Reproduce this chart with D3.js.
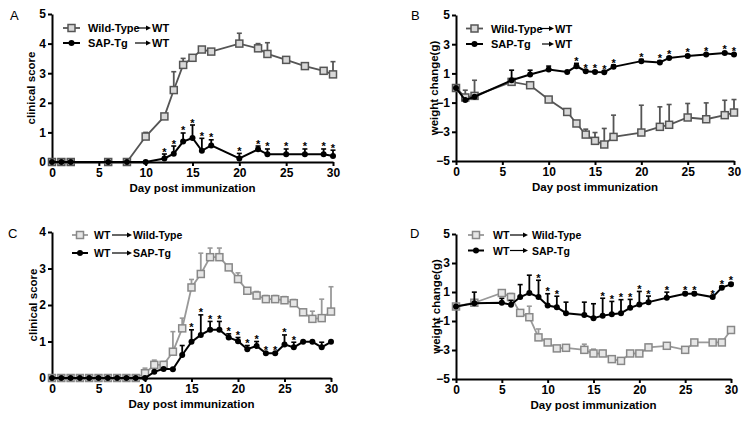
<!DOCTYPE html>
<html><head><meta charset="utf-8">
<script src="https://cdn.jsdelivr.net/npm/d3@7"></script>
<style>body{margin:0;background:#fff}svg{display:block}</style>
</head><body>
<svg id="chart" width="749" height="421"></svg>
<script>
// ---------- DATA ----------
const xTicks = [0, 5, 10, 15, 20, 25, 30];
const yTicksScore5 = [0, 1, 2, 3, 4, 5];
const yTicksScore4 = [0, 1, 2, 3, 4];
const yTicksWeight = [-5, -3, -1, 1, 3, 5];

// Panel A: clinical score, donor -> WT recipient
const daysA = [0, 1, 2, 6, 8, 10, 12, 13, 14, 15, 16, 17, 20, 22, 23, 25, 27, 29, 30];
const wtA    = [0, 0, 0, 0, 0, 0.86, 1.54, 2.43, 3.28, 3.52, 3.8, 3.73, 4.0, 3.84, 3.65, 3.45, 3.24, 3.08, 2.96];
const wtAerr = [0, 0, 0, 0, 0, 0.14, 0.05, 0.62, 0.22, 0.05, 0.05, 0, 0.35, 0.16, 0.38, 0, 0, 0, 0.43];
const sapA    = [0, 0, 0, 0, 0, 0, 0.12, 0.28, 0.69, 0.81, 0.38, 0.56, 0.12, 0.43, 0.26, 0.26, 0.26, 0.26, 0.2];
const sapAerr = [0, 0, 0, 0, 0, 0, 0.15, 0.26, 0.29, 0.44, 0.42, 0.19, 0.17, 0.11, 0.18, 0.18, 0.18, 0.18, 0.2];
const starsA = [12, 13, 14, 15, 16, 17, 20, 22, 23, 25, 27, 29, 30];

// Panel B: weight change, donor -> WT recipient
const daysB = [0, 1, 2, 6, 8, 10, 12, 13, 14, 15, 16, 17, 20, 22, 23, 25, 27, 29, 30];
const wtB    = [0, -0.65, -0.54, 0.42, 0.19, -0.79, -1.64, -2.43, -3.19, -3.62, -3.87, -3.35, -3.05, -2.66, -2.52, -2.02, -2.14, -1.86, -1.68];
const wtBerr = [0, 0.5, 1.07, 0, 0, 0, 0, 0, 0.37, 0.57, 1.1, 1.49, 1.87, 1.37, 1.39, 0.96, 1.12, 1.02, 0.89];
const sapB    = [0, -0.83, -0.6, 0.53, 0.92, 1.27, 1.1, 1.49, 1.15, 1.1, 1.08, 1.45, 1.84, 1.75, 2.06, 2.2, 2.29, 2.4, 2.29];
const sapBerr = [0, 0, 0, 0.69, 0.3, 0.23, 0, 0.2, 0.08, 0.08, 0.08, 0.12, 0.12, 0.12, 0.08, 0.08, 0.05, 0.05, 0.05];
const starsB = [13, 14, 15, 16, 17, 20, 22, 23, 25, 27, 29, 30];

// Panel C: clinical score, WT donor -> recipient
const daysC = [0, 1, 2, 3, 4, 5, 6, 7, 8, 9, 10, 11, 12, 13, 14, 15, 16, 17, 18, 19, 20, 21, 22, 23, 24, 25, 26, 27, 28, 29, 30];
const wtC    = [0, 0, 0, 0, 0, 0, 0, 0, 0, 0, 0.13, 0.36, 0.36, 0.72, 1.36, 2.48, 2.85, 3.31, 3.31, 3.03, 2.71, 2.39, 2.26, 2.16, 2.16, 2.13, 2.05, 1.8, 1.62, 1.64, 1.82];
const wtCerr = [0, 0, 0, 0, 0, 0, 0, 0, 0, 0, 0.14, 0.13, 0.09, 0.55, 0.28, 0.22, 0.57, 0.25, 0.25, 0, 0.17, 0, 0.11, 0.1, 0.1, 0.1, 0.1, 0, 0.21, 0.52, 0.68];
const sapC    = [0, 0, 0, 0, 0, 0, 0, 0, 0, 0, 0, 0.17, 0.25, 0.24, 0.63, 0.99, 1.18, 1.32, 1.32, 1.11, 1.01, 0.79, 0.88, 0.68, 0.68, 0.92, 0.84, 0.99, 0.99, 0.84, 0.99];
const sapCerr = [0, 0, 0, 0, 0, 0, 0, 0, 0, 0, 0, 0, 0, 0, 0.26, 0.33, 0.55, 0.23, 0.23, 0.1, 0.1, 0.1, 0.12, 0, 0, 0.26, 0.14, 0, 0, 0.14, 0];
const starsC = [15, 16, 17, 18, 19, 20, 21, 22, 23, 24, 25, 26];

// Panel D: weight change, WT donor -> recipient
const daysD = [0, 2, 5, 6, 7, 8, 9, 10, 11, 12, 14, 15, 16, 17, 18, 19, 20, 21, 23, 25, 26, 28, 29, 30];
const wtD    = [0, 0.26, 0.93, 0.65, -0.44, -0.74, -2.13, -2.48, -2.89, -2.85, -2.99, -3.24, -3.24, -3.63, -3.75, -3.24, -3.24, -2.82, -2.71, -2.99, -2.48, -2.48, -2.48, -1.62];
const wtDerr = [0, 0, 0, 0.25, 0, 0.76, 0.58, 0, 0, 0, 0.39, 0.3, 0.2, 0, 0, 0, 0, 0.2, 0, 0, 0.1, 0, 0, 0];
const sapD    = [0, 0.23, 0.26, 0.12, 0.65, 0.93, 0.65, 0.07, -0.05, -0.46, -0.58, -0.81, -0.63, -0.53, -0.46, -0.09, 0.14, 0.3, 0.6, 0.88, 0.88, 0.65, 1.3, 1.53];
const sapDerr = [0, 0.76, 0.3, 0.3, 0.86, 1.23, 1.16, 0.81, 0.76, 0.76, 0.88, 1.0, 1.2, 0.88, 0.93, 0.58, 0.9, 0.42, 0.39, 0.1, 0.1, 0.05, 0.1, 0.1];
const starsD = [9, 10, 11, 16, 17, 18, 19, 20, 21, 23, 25, 26, 28, 29, 30];

const xTitle = "Day post immunization";
const yTitleScore = "clinical score";
const yTitleWeight = "weight change(g)";

// ---------- DRAW ----------
const FONT = "'Liberation Sans', Arial, Helvetica, sans-serif";
const svg = d3.select("#chart");

function zip(days, vals, errs) {
  return days.map((d, i) => ({day: d, v: vals[i], e: errs[i]}));
}

function panel(cfg) {
  const g = svg.append("g");
  const x = d3.scaleLinear().domain([0, 30]).range([cfg.x0, cfg.x1]);
  const y = d3.scaleLinear().domain(cfg.yDomain).range([cfg.yb, cfg.yt]);

  const xa = g.append("g").attr("transform", `translate(0,${cfg.yb})`)
    .call(d3.axisBottom(x).tickValues(xTicks).tickFormat(d3.format("d")).tickSize(4).tickSizeOuter(0).tickPadding(2));
  const ya = g.append("g").attr("transform", `translate(${cfg.x0},0)`)
    .call(d3.axisLeft(y).tickValues(cfg.yTicks).tickFormat(d3.format("d")).tickSize(4).tickSizeOuter(0).tickPadding(2));
  [xa, ya].forEach(a => {
    a.select(".domain").attr("stroke", "#000").attr("stroke-width", 2);
    a.selectAll(".tick line").attr("stroke", "#000").attr("stroke-width", 2);
    a.selectAll(".tick text").attr("fill", "#000").attr("font-family", FONT)
      .attr("font-weight", "bold").attr("font-size", 12);
  });

  g.append("text").attr("x", (cfg.x0 + cfg.x1) / 2).attr("y", cfg.yb + 30)
    .attr("text-anchor", "middle").attr("font-family", FONT).attr("font-weight", "bold")
    .attr("font-size", 11.5).text(xTitle);
  g.append("text").attr("transform", `translate(${cfg.ytx},${(cfg.yb + cfg.yt) / 2 + cfg.ytdy}) rotate(-90)`)
    .attr("text-anchor", "middle").attr("font-family", FONT).attr("font-weight", "bold")
    .attr("font-size", 11.5).text(cfg.yTitle);
  g.append("text").attr("x", cfg.lx).attr("y", cfg.ly).attr("font-family", FONT)
    .attr("font-size", 13).text(cfg.letter);

  const line = d3.line().x(d => x(d.day)).y(d => y(d.v));

  cfg.series.forEach(s => {
    const data = zip(s.days, s.vals, s.errs);
    const eb = g.append("g");
    data.filter(d => d.e > 0).forEach(d => {
      const xx = x(d.day), y1 = y(d.v), y2 = y(d.v + d.e);
      eb.append("line").attr("x1", xx).attr("x2", xx).attr("y1", y1).attr("y2", y2)
        .attr("stroke", s.color).attr("stroke-width", 1.8);
      eb.append("line").attr("x1", xx - 2.5).attr("x2", xx + 2.5).attr("y1", y2).attr("y2", y2)
        .attr("stroke", s.color).attr("stroke-width", 1.6);
    });
    g.append("path").datum(data).attr("d", line).attr("fill", "none")
      .attr("stroke", s.color).attr("stroke-width", s.lw);
    drawMarkers(g, data.map(d => [x(d.day), y(d.v)]), s);
    if (s.stars) {
      s.stars.forEach(day => {
        const d = data.find(p => p.day === day);
        const top = Math.min(y(d.v + d.e), y(d.v) - 1);
        g.append("text").attr("x", x(day)).attr("y", top + 1.5).attr("text-anchor", "middle")
          .attr("font-family", FONT).attr("font-weight", "bold").attr("font-size", 11).text("*");
      });
    }
  });

  cfg.legend.forEach(L => {
    const yy = L.y;
    const s = cfg.series[L.series];
    g.append("line").attr("x1", L.lx0).attr("x2", L.lx1).attr("y1", yy).attr("y2", yy)
      .attr("stroke", s.color).attr("stroke-width", s.lw);
    drawMarkers(g, [[(L.lx0 + L.lx1) / 2, yy]], s);
    L.parts.forEach(p => {
      if (p.arrow) {
        g.append("line").attr("x1", p.x0).attr("x2", p.x1 - 4).attr("y1", yy).attr("y2", yy)
          .attr("stroke", "#000").attr("stroke-width", 1.2);
        g.append("path").attr("d", `M${p.x1},${yy}L${p.x1 - 5},${yy - 2.5}L${p.x1 - 5},${yy + 2.5}Z`).attr("fill", "#000");
      } else {
        g.append("text").attr("x", p.x).attr("y", yy + 4).attr("font-family", FONT)
          .attr("font-weight", "bold").attr("font-size", cfg.legendFs).text(p.t);
      }
    });
  });
}

function drawMarkers(g, pts, s) {
  if (s.shape === "square") {
    pts.forEach(([px, py]) => {
      g.append("rect").attr("x", px - 3.5).attr("y", py - 3.5).attr("width", 7).attr("height", 7)
        .attr("fill", s.fill).attr("stroke", s.mstroke).attr("stroke-width", 1.5);
    });
  } else {
    pts.forEach(([px, py]) => {
      g.append("circle").attr("cx", px).attr("cy", py).attr("r", 3).attr("fill", "#000");
    });
  }
}

const darkGray = {shape: "square", color: "#555", mstroke: "#555", fill: "#d8d8d8", lw: 1.8};
const lightGray = {shape: "square", color: "#999", mstroke: "#888", fill: "#e6e6e6", lw: 1.8};
const blackS = {shape: "circle", color: "#000", lw: 2};

panel({
  letter: "A", lx: 10, ly: 20,
  x0: 52, x1: 333, yb: 162, yt: 14, yDomain: [0, 5], yTicks: yTicksScore5,
  yTitle: yTitleScore, ytx: 35, ytdy: 0, legendFs: 11,
  series: [
    Object.assign({days: daysA, vals: wtA, errs: wtAerr}, darkGray),
    Object.assign({days: daysA, vals: sapA, errs: sapAerr, stars: starsA}, blackS)
  ],
  legend: [
    {series: 0, y: 28, lx0: 63, lx1: 80, parts: [{t: "Wild-Type", x: 88}, {arrow: true, x0: 137, x1: 151}, {t: "WT", x: 152}]},
    {series: 1, y: 43, lx0: 63, lx1: 80, parts: [{t: "SAP-Tg", x: 88}, {arrow: true, x0: 135, x1: 151}, {t: "WT", x: 152}]}
  ]
});

panel({
  letter: "B", lx: 411, ly: 20,
  x0: 456, x1: 734, yb: 161, yt: 15, yDomain: [-5, 5], yTicks: yTicksWeight,
  yTitle: yTitleWeight, ytx: 438, ytdy: 0, legendFs: 11,
  series: [
    Object.assign({days: daysB, vals: wtB, errs: wtBerr}, darkGray),
    Object.assign({days: daysB, vals: sapB, errs: sapBerr, stars: starsB}, blackS)
  ],
  legend: [
    {series: 0, y: 28.5, lx0: 466, lx1: 483, parts: [{t: "Wild-Type", x: 491}, {arrow: true, x0: 540, x1: 554}, {t: "WT", x: 555}]},
    {series: 1, y: 44, lx0: 466, lx1: 483, parts: [{t: "SAP-Tg", x: 491}, {arrow: true, x0: 542, x1: 554}, {t: "WT", x: 555}]}
  ]
});

panel({
  letter: "C", lx: 8, ly: 238,
  x0: 52, x1: 331, yb: 378, yt: 232, yDomain: [0, 4], yTicks: yTicksScore4,
  yTitle: yTitleScore, ytx: 37, ytdy: 0, legendFs: 10.5,
  series: [
    Object.assign({days: daysC, vals: wtC, errs: wtCerr}, lightGray),
    Object.assign({days: daysC, vals: sapC, errs: sapCerr, stars: starsC}, blackS)
  ],
  legend: [
    {series: 0, y: 235, lx0: 72, lx1: 88, parts: [{t: "WT", x: 94}, {arrow: true, x0: 112, x1: 132}, {t: "Wild-Type", x: 133}]},
    {series: 1, y: 253, lx0: 72, lx1: 88, parts: [{t: "WT", x: 94}, {arrow: true, x0: 112, x1: 132}, {t: "SAP-Tg", x: 133}]}
  ]
});

panel({
  letter: "D", lx: 410, ly: 238,
  x0: 456, x1: 731, yb: 379, yt: 234, yDomain: [-5, 5], yTicks: yTicksWeight,
  yTitle: yTitleWeight, ytx: 440, ytdy: 0, legendFs: 10.5,
  series: [
    Object.assign({days: daysD, vals: wtD, errs: wtDerr}, lightGray),
    Object.assign({days: daysD, vals: sapD, errs: sapDerr, stars: starsD}, blackS)
  ],
  legend: [
    {series: 0, y: 235, lx0: 468, lx1: 484, parts: [{t: "WT", x: 493}, {arrow: true, x0: 510, x1: 528}, {t: "Wild-Type", x: 532}]},
    {series: 1, y: 250.5, lx0: 468, lx1: 484, parts: [{t: "WT", x: 493}, {arrow: true, x0: 510, x1: 528}, {t: "SAP-Tg", x: 532}]}
  ]
});
</script>
</body></html>
